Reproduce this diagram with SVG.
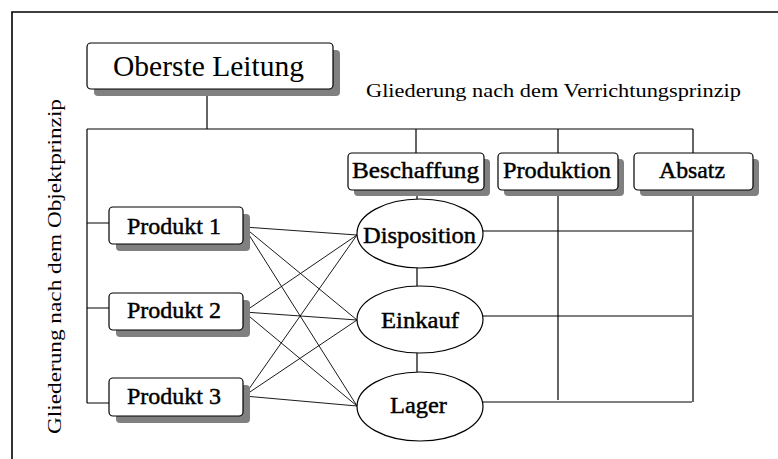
<svg xmlns="http://www.w3.org/2000/svg" width="778" height="459" viewBox="0 0 778 459">
<style>
  .box{fill:#fff;stroke:#000;stroke-width:1.2}
  .sh{fill:#808080;stroke:none}
  .ln{fill:none;stroke:#000;stroke-width:1.2}
  .xl{fill:none;stroke:#000;stroke-width:0.9}
  .t{font-family:"Liberation Serif","Times New Roman",serif;fill:#000}
  .lab{font-size:24px;text-anchor:middle;stroke:#000;stroke-width:0.45}
</style>
<rect width="778" height="459" fill="#fff"/>
<path d="M12,459 V12 H778" fill="none" stroke="#000" stroke-width="1.6"/>

<g id="connectors">
  <path class="ln" d="M207,89 V129 M87,129 H693 M416,129 V153 M558,129 V153 M693,129 V153"/>
  <path class="ln" d="M87,129 V403 M87,223 H109 M87,308 H109 M87,403 H109"/>
  <path class="ln" d="M417,190 V199 M417,268 V286 M417,353 V372"/>
  <path class="ln" d="M558,190 V400 M693,190 V402 M483,231 H692 M483,316 H692 M483,402 H692"/>
  <path class="xl" d="M244,227 L357,235 M244,227 L357,320 M244,227 L357,406
    M244,312 L357,235 M244,312 L357,320 M244,312 L357,406
    M244,396 L357,235 M244,396 L357,320 M244,396 L357,406"/>
</g>

<g id="oberste">
  <rect class="sh" x="94" y="50" width="246" height="46" rx="4"/>
  <rect class="box" x="87" y="43" width="246" height="46" rx="4"/>
  <text class="t" x="208.5" y="76" font-size="30" text-anchor="middle" textLength="191" lengthAdjust="spacingAndGlyphs">Oberste Leitung</text>
</g>

<g id="verrichtung">
  <text class="t" x="366" y="97" font-size="19" textLength="375" lengthAdjust="spacingAndGlyphs">Gliederung nach dem Verrichtungsprinzip</text>
</g>

<g id="objekt">
  <text class="t" transform="translate(61,434) rotate(-90)" x="0" y="0" font-size="19" textLength="335" lengthAdjust="spacingAndGlyphs">Gliederung nach dem Objektprinzip</text>
</g>

<g id="beschaffung">
  <rect class="sh" x="354" y="159" width="136" height="37" rx="4"/>
  <rect class="box" x="348" y="153" width="136" height="37" rx="4"/>
  <text class="t lab" x="415.5" y="178" textLength="127" lengthAdjust="spacingAndGlyphs">Beschaffung</text>
</g>
<g id="produktion">
  <rect class="sh" x="504" y="159" width="120" height="37" rx="4"/>
  <rect class="box" x="498" y="153" width="120" height="37" rx="4"/>
  <text class="t lab" x="557" y="178" textLength="108" lengthAdjust="spacingAndGlyphs">Produktion</text>
</g>
<g id="absatz">
  <rect class="sh" x="640" y="159" width="119" height="37" rx="4"/>
  <rect class="box" x="634" y="153" width="119" height="37" rx="4"/>
  <text class="t lab" x="692" y="178" textLength="66" lengthAdjust="spacingAndGlyphs">Absatz</text>
</g>

<g id="produkt1">
  <rect class="sh" x="116" y="214" width="134" height="37" rx="4"/>
  <rect class="box" x="109" y="207" width="134" height="37" rx="4"/>
  <text class="t lab" x="174" y="234" textLength="94" lengthAdjust="spacingAndGlyphs">Produkt 1</text>
</g>
<g id="produkt2">
  <rect class="sh" x="116" y="300" width="134" height="37" rx="4"/>
  <rect class="box" x="109" y="293" width="134" height="37" rx="4"/>
  <text class="t lab" x="174" y="318" textLength="94" lengthAdjust="spacingAndGlyphs">Produkt 2</text>
</g>
<g id="produkt3">
  <rect class="sh" x="116" y="385" width="134" height="38" rx="4"/>
  <rect class="box" x="109" y="378" width="134" height="38" rx="4"/>
  <text class="t lab" x="174" y="404" textLength="94" lengthAdjust="spacingAndGlyphs">Produkt 3</text>
</g>

<g id="disposition">
  <ellipse class="box" cx="420" cy="233.5" rx="63" ry="34.5"/>
  <text class="t lab" x="419.5" y="243" textLength="113" lengthAdjust="spacingAndGlyphs">Disposition</text>
</g>
<g id="einkauf">
  <ellipse class="box" cx="420" cy="319.5" rx="63" ry="33.5"/>
  <text class="t lab" x="420" y="328" textLength="78" lengthAdjust="spacingAndGlyphs">Einkauf</text>
</g>
<g id="lager">
  <ellipse class="box" cx="420" cy="406.5" rx="63" ry="34.5"/>
  <text class="t lab" x="418.5" y="413" textLength="57" lengthAdjust="spacingAndGlyphs">Lager</text>
</g>
</svg>
